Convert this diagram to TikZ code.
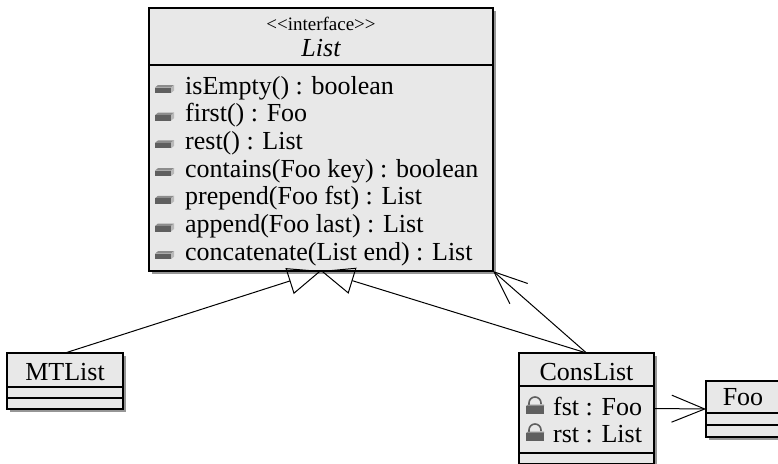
\documentclass[tikz,border=0pt]{standalone}
\usepackage{fontspec}
\setmainfont{Liberation Serif}
\usetikzlibrary{arrows.meta,shadows}
\definecolor{boxfill}{RGB}{232,232,232}
\definecolor{shadowgray}{RGB}{150,150,150}
\definecolor{icondark}{RGB}{95,95,95}
\definecolor{iconmid}{RGB}{140,140,140}
\definecolor{iconlight}{RGB}{185,185,185}
\begin{document}
\begin{tikzpicture}[x=1pt,y=-1pt,
  cls/.style={draw=black, line width=1.1pt, fill=boxfill,
    general shadow={fill=shadowgray, shadow xshift=3pt, shadow yshift=-3pt},
    inner sep=0pt, outer sep=0pt},
  sep/.style={draw=black, line width=1.1pt},
  txt/.style={inner sep=0pt, anchor=base west, font=\fontsize{26}{28}\selectfont},
  ctxt/.style={inner sep=0pt, anchor=base, font=\fontsize{26}{28}\selectfont},
  gen/.style={-{Triangle[open,length=33pt,width=27pt]}, line width=1pt},
  assoc/.style={-{Straight Barb[length=33pt,width=27pt]}, line width=1pt},
  opicon/.pic={
    \fill[iconmid] (0,-6.5) -- (3,-9) -- (19,-9) -- (16,-6.5) -- cycle;
    \fill[iconlight] (16,-6.5) -- (19,-9) -- (19,-3.5) -- (16,-1) -- cycle;
    \fill[icondark] (0,-6.5) rectangle (16,-1);
  },
  lockicon/.pic={
    \draw[icondark, line width=1.6pt] (3,-9) -- (3,-12) arc (180:360:6) -- (15,-11);
    \fill[iconmid] (0,-9) -- (2,-10.5) -- (18,-10.5) -- (18,-9) -- cycle;
    \fill[icondark] (0,-9) rectangle (18,-1);
  }]
\useasboundingbox (0,0) rectangle (778,463);

% List interface
\node[cls, minimum width=344pt, minimum height=263pt] (list) at (321,139.5) {};
\draw[sep] (list.west |- 0,65) -- (list.east |- 0,65);
\node[inner sep=0pt, anchor=base, font=\fontsize{19}{21}\selectfont] (stereo) at (321,30) {<{}<interface>{}>};
\node[ctxt, font=\fontsize{26}{28}\selectfont\itshape] (listname) at (321,56) {List};
\foreach \i/\t in {0/{isEmpty() : boolean},1/{first() : Foo},2/{rest() : List},
  3/{contains(Foo key) : boolean},4/{prepend(Foo fst) : List},
  5/{append(Foo last) : List},6/{concatenate(List end) : List}}{
  \pgfmathsetmacro\bl{94+27.7*\i}
  \pic at (155,\bl) {opicon};
  \node[txt] (m\i) at (185,\bl) {\t};
}

% MTList
\node[cls, minimum width=116pt, minimum height=56pt] (mtlist) at (65,381) {};
\draw[sep] (mtlist.west |- 0,387) -- (mtlist.east |- 0,387);
\draw[sep] (mtlist.west |- 0,398) -- (mtlist.east |- 0,398);
\node[ctxt] (mtname) at (65,380) {MTList};

% ConsList
\node[cls, minimum width=135pt, minimum height=111pt] (cons) at (586.5,408.5) {};
\draw[sep] (cons.west |- 0,386) -- (cons.east |- 0,386);
\draw[sep] (cons.west |- 0,453) -- (cons.east |- 0,453);
\node[ctxt] (consname) at (586.5,380) {ConsList};
\pic at (526,415) {lockicon};
\node[txt] (a1) at (553,415) {fst : Foo};
\pic at (526,442) {lockicon};
\node[txt] (a2) at (553,442) {rst : List};

% Foo
\node[cls, minimum width=74pt, minimum height=56pt] (foo) at (743,409) {};
\draw[sep] (foo.west |- 0,413) -- (foo.east |- 0,413);
\draw[sep] (foo.west |- 0,425) -- (foo.east |- 0,425);
\node[ctxt] (fooname) at (743,405) {Foo};

% connectors
\draw[gen] (mtlist.north) -- (list.south);
\draw[gen] (cons.north) -- (list.south);
\draw[assoc] (cons.north) -- (list.south east);
\draw[assoc] (cons.east) -- (foo.west);
\end{tikzpicture}
\end{document}
